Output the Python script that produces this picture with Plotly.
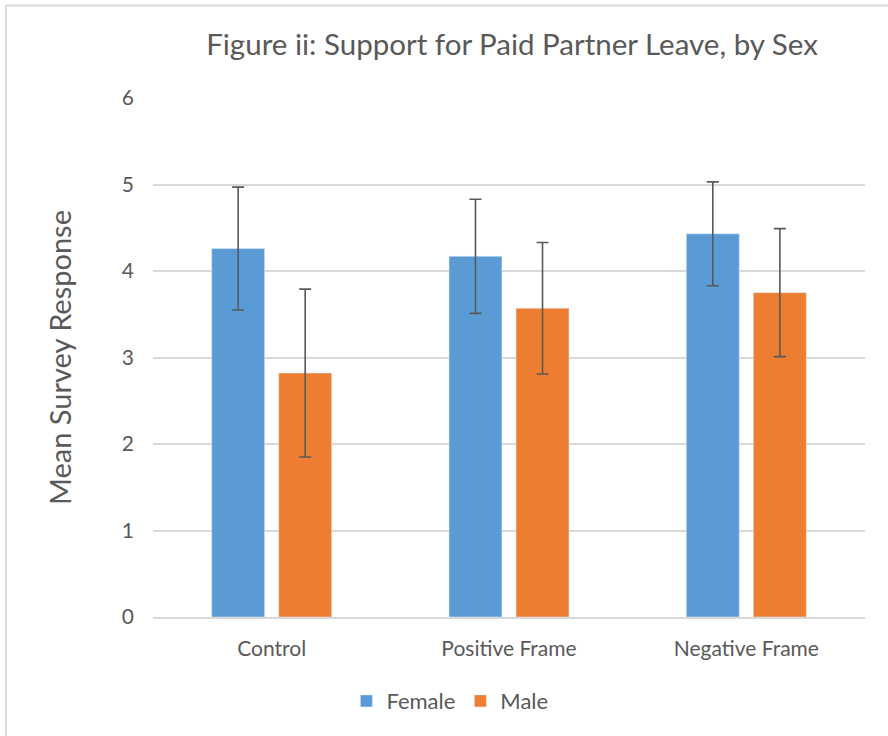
import plotly.graph_objects as go

categories = ["Control", "Positive Frame", "Negative Frame"]
female_mean = [4.26, 4.17, 4.43]
female_err = [0.71, 0.66, 0.60]
male_mean = [2.82, 3.57, 3.75]
male_err = [0.97, 0.76, 0.74]
y_ticks = [0, 1, 2, 3, 4, 5, 6]

FONT = "Lato"
GRAY = "#595959"

fig = go.Figure()
fig.add_trace(go.Bar(
    name="Female", x=categories, y=female_mean, marker_color="#5b9bd5",
    error_y=dict(type="data", array=female_err, color=GRAY, thickness=1.6, width=6),
))
fig.add_trace(go.Bar(
    name="Male", x=categories, y=male_mean, marker_color="#ed7d31",
    error_y=dict(type="data", array=male_err, color=GRAY, thickness=1.6, width=6),
))

fig.update_layout(
    width=888, height=736,
    margin=dict(l=153, r=23, t=98, b=119),
    paper_bgcolor="white", plot_bgcolor="white",
    barmode="group", bargap=0.435, bargroupgap=0.21,
    font=dict(family=FONT, color=GRAY, size=21),
    title=dict(text="Figure ii: Support for Paid Partner Leave, by Sex",
               x=512 / 888, xanchor="center", y=1 - 45 / 736, yanchor="middle",
               font=dict(family=FONT, size=29.5, color=GRAY)),
    legend=dict(orientation="h", x=0.417, xanchor="center", y=-0.162, yanchor="middle",
                font=dict(family=FONT, size=22, color=GRAY), itemwidth=30,
                traceorder="normal"),
    xaxis=dict(showgrid=False, showline=True, linecolor="#d9d9d9", linewidth=1.5,
               ticks="", ticklabelstandoff=12, tickfont=dict(size=21, color=GRAY)),
    yaxis=dict(range=[0, 6], tickvals=y_ticks, showgrid=True, gridcolor="#d9d9d9",
               gridwidth=1.5, zeroline=False, showline=False, ticks="",
               ticklabelstandoff=18, tickfont=dict(size=21, color=GRAY),
               title=dict(text="Mean Survey Response", standoff=41,
                          font=dict(family=FONT, size=29, color=GRAY))),
    shapes=[
        dict(type="line", xref="paper", yref="paper", x0=-0.2065, x1=-0.2065, y0=1.178, y1=-0.4,
             line=dict(color="#d9d9d9", width=2)),
        dict(type="line", xref="paper", yref="paper", x0=-0.2065, x1=1.2, y0=1.178, y1=1.178,
             line=dict(color="#d9d9d9", width=2)),
    ],
)

fig.write_html("out.html", config={"displayModeBar": False},
               post_script="document.body.style.margin='0px';")
